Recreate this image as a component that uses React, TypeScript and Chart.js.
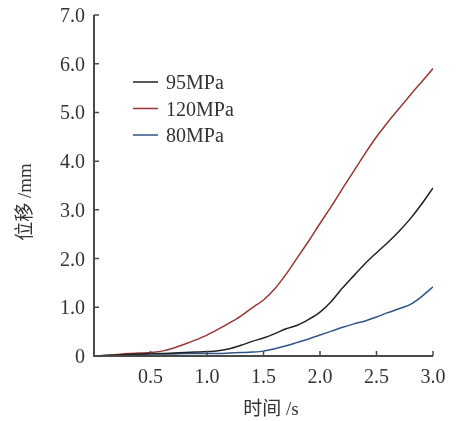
import React, { useEffect, useRef } from "react";
import { Chart, registerables } from "chart.js";

Chart.register(...registerables);

const times = [0, 0.1, 0.2, 0.3, 0.4, 0.5, 0.6, 0.7, 0.8, 0.9, 1.0, 1.1, 1.2, 1.3, 1.4, 1.5, 1.6, 1.7, 1.8, 1.9, 2.0, 2.1, 2.2, 2.3, 2.4, 2.5, 2.6, 2.7, 2.8, 2.9, 3.0];
const s95 = [0, 0.01, 0.02, 0.03, 0.04, 0.05, 0.05, 0.06, 0.07, 0.08, 0.09, 0.11, 0.15, 0.22, 0.30, 0.37, 0.46, 0.56, 0.63, 0.75, 0.90, 1.12, 1.40, 1.65, 1.90, 2.12, 2.33, 2.56, 2.82, 3.12, 3.45];
const s120 = [0, 0.01, 0.03, 0.05, 0.06, 0.07, 0.10, 0.16, 0.24, 0.33, 0.43, 0.55, 0.68, 0.82, 0.99, 1.15, 1.38, 1.68, 2.02, 2.36, 2.72, 3.07, 3.44, 3.80, 4.16, 4.50, 4.80, 5.08, 5.36, 5.63, 5.90];
const s80 = [0, 0.01, 0.02, 0.03, 0.03, 0.04, 0.04, 0.04, 0.05, 0.05, 0.05, 0.05, 0.06, 0.07, 0.08, 0.10, 0.15, 0.21, 0.28, 0.35, 0.43, 0.51, 0.59, 0.66, 0.72, 0.80, 0.89, 0.97, 1.06, 1.22, 1.42];
const seriesNames = ["95MPa", "120MPa", "80MPa"];
const seriesColors = ["#222222", "#9a3636", "#2f5588"];
const xTicks = [0.5, 1.0, 1.5, 2.0, 2.5, 3.0];
const yTicks = [0, 1, 2, 3, 4, 5, 6, 7];
const xTitle = "时间 /s";
const yTitle = "位移 /mm";

const SERIF = "'Liberation Serif', 'DejaVu Serif', serif";
const CJK = "'Liberation Serif', 'Noto Sans CJK SC', serif";

const axisPlugin = {
  id: "customAxes",
  afterDraw(chart: any) {
    const ctx = chart.ctx;
    const xs = chart.scales.x;
    const ys = chart.scales.y;
    const left = xs.left;
    const right = xs.right;
    const top = ys.top;
    const bottom = ys.bottom;
    ctx.save();
    ctx.strokeStyle = "#4a4a4a";
    ctx.lineWidth = 2;
    ctx.beginPath();
    ctx.moveTo(left, top);
    ctx.lineTo(left, bottom);
    ctx.lineTo(right, bottom);
    ctx.stroke();
    ctx.lineWidth = 1.5;
    ctx.beginPath();
    yTicks.forEach((v) => {
      const py = ys.getPixelForValue(v);
      ctx.moveTo(left, py);
      ctx.lineTo(left + 5, py);
    });
    xTicks.forEach((v) => {
      const px = xs.getPixelForValue(v);
      ctx.moveTo(px, bottom);
      ctx.lineTo(px, bottom - 5);
    });
    ctx.stroke();

    ctx.fillStyle = "#333";
    ctx.font = `20px ${SERIF}`;
    ctx.textAlign = "right";
    ctx.textBaseline = "alphabetic";
    yTicks.forEach((v) => {
      const py = ys.getPixelForValue(v);
      ctx.fillText(v === 0 ? "0" : v.toFixed(1), left - 9, py + 7);
    });
    ctx.textAlign = "center";
    xTicks.forEach((v) => {
      const px = xs.getPixelForValue(v);
      ctx.fillText(v.toFixed(1), px, bottom + 27);
    });

    ctx.font = `19px ${CJK}`;
    ctx.fillText(xTitle, 271, 415);
    ctx.save();
    ctx.translate(31, 202);
    ctx.rotate(-Math.PI / 2);
    ctx.textAlign = "center";
    ctx.fillText(yTitle, 0, 0);
    ctx.restore();

    // legend
    ctx.font = `20px ${SERIF}`;
    ctx.textAlign = "left";
    chart.data.datasets.forEach((ds: any, i: number) => {
      const y = 82 + i * 26.5;
      ctx.strokeStyle = ds.borderColor;
      ctx.lineWidth = 1.5;
      ctx.beginPath();
      ctx.moveTo(133, y);
      ctx.lineTo(158, y);
      ctx.stroke();
      ctx.fillStyle = "#333";
      ctx.fillText(ds.label, 166, y + 7);
    });
    ctx.restore();
  },
};

export default function App() {
  const ref = useRef<HTMLCanvasElement>(null);
  useEffect(() => {
    if (!ref.current) return;
    const seriesData = [s95, s120, s80];
    const chart = new Chart(ref.current, {
      type: "line",
      data: {
        datasets: seriesNames.map((name, i) => ({
          label: name,
          data: times.map((t, j) => ({ x: t, y: seriesData[i][j] })),
          borderColor: seriesColors[i],
          borderWidth: 1.5,
          pointRadius: 0,
          tension: 0.3,
          fill: false,
        })),
      },
      options: {
        animation: false,
        responsive: false,
        maintainAspectRatio: false,
        layout: { padding: { top: 15, right: 24, left: 0, bottom: 0 } },
        plugins: { legend: { display: false }, tooltip: { enabled: false } },
        scales: {
          x: {
            type: "linear",
            min: 0,
            max: 3,
            grid: { display: false, drawTicks: false },
            border: { display: false },
            ticks: { display: false },
            afterFit: (s: any) => { s.height = 65; },
          },
          y: {
            type: "linear",
            min: 0,
            max: 7,
            grid: { display: false, drawTicks: false },
            border: { display: false },
            ticks: { display: false },
            afterFit: (s: any) => { s.width = 94; },
          },
        },
      },
      plugins: [axisPlugin],
    });
    return () => chart.destroy();
  }, []);
  return (
    <div style={{ position: "fixed", left: 0, top: 0, width: 457, height: 421, background: "#fff" }}>
      <canvas ref={ref} width={457} height={421} style={{ width: 457, height: 421 }} />
    </div>
  );
}
